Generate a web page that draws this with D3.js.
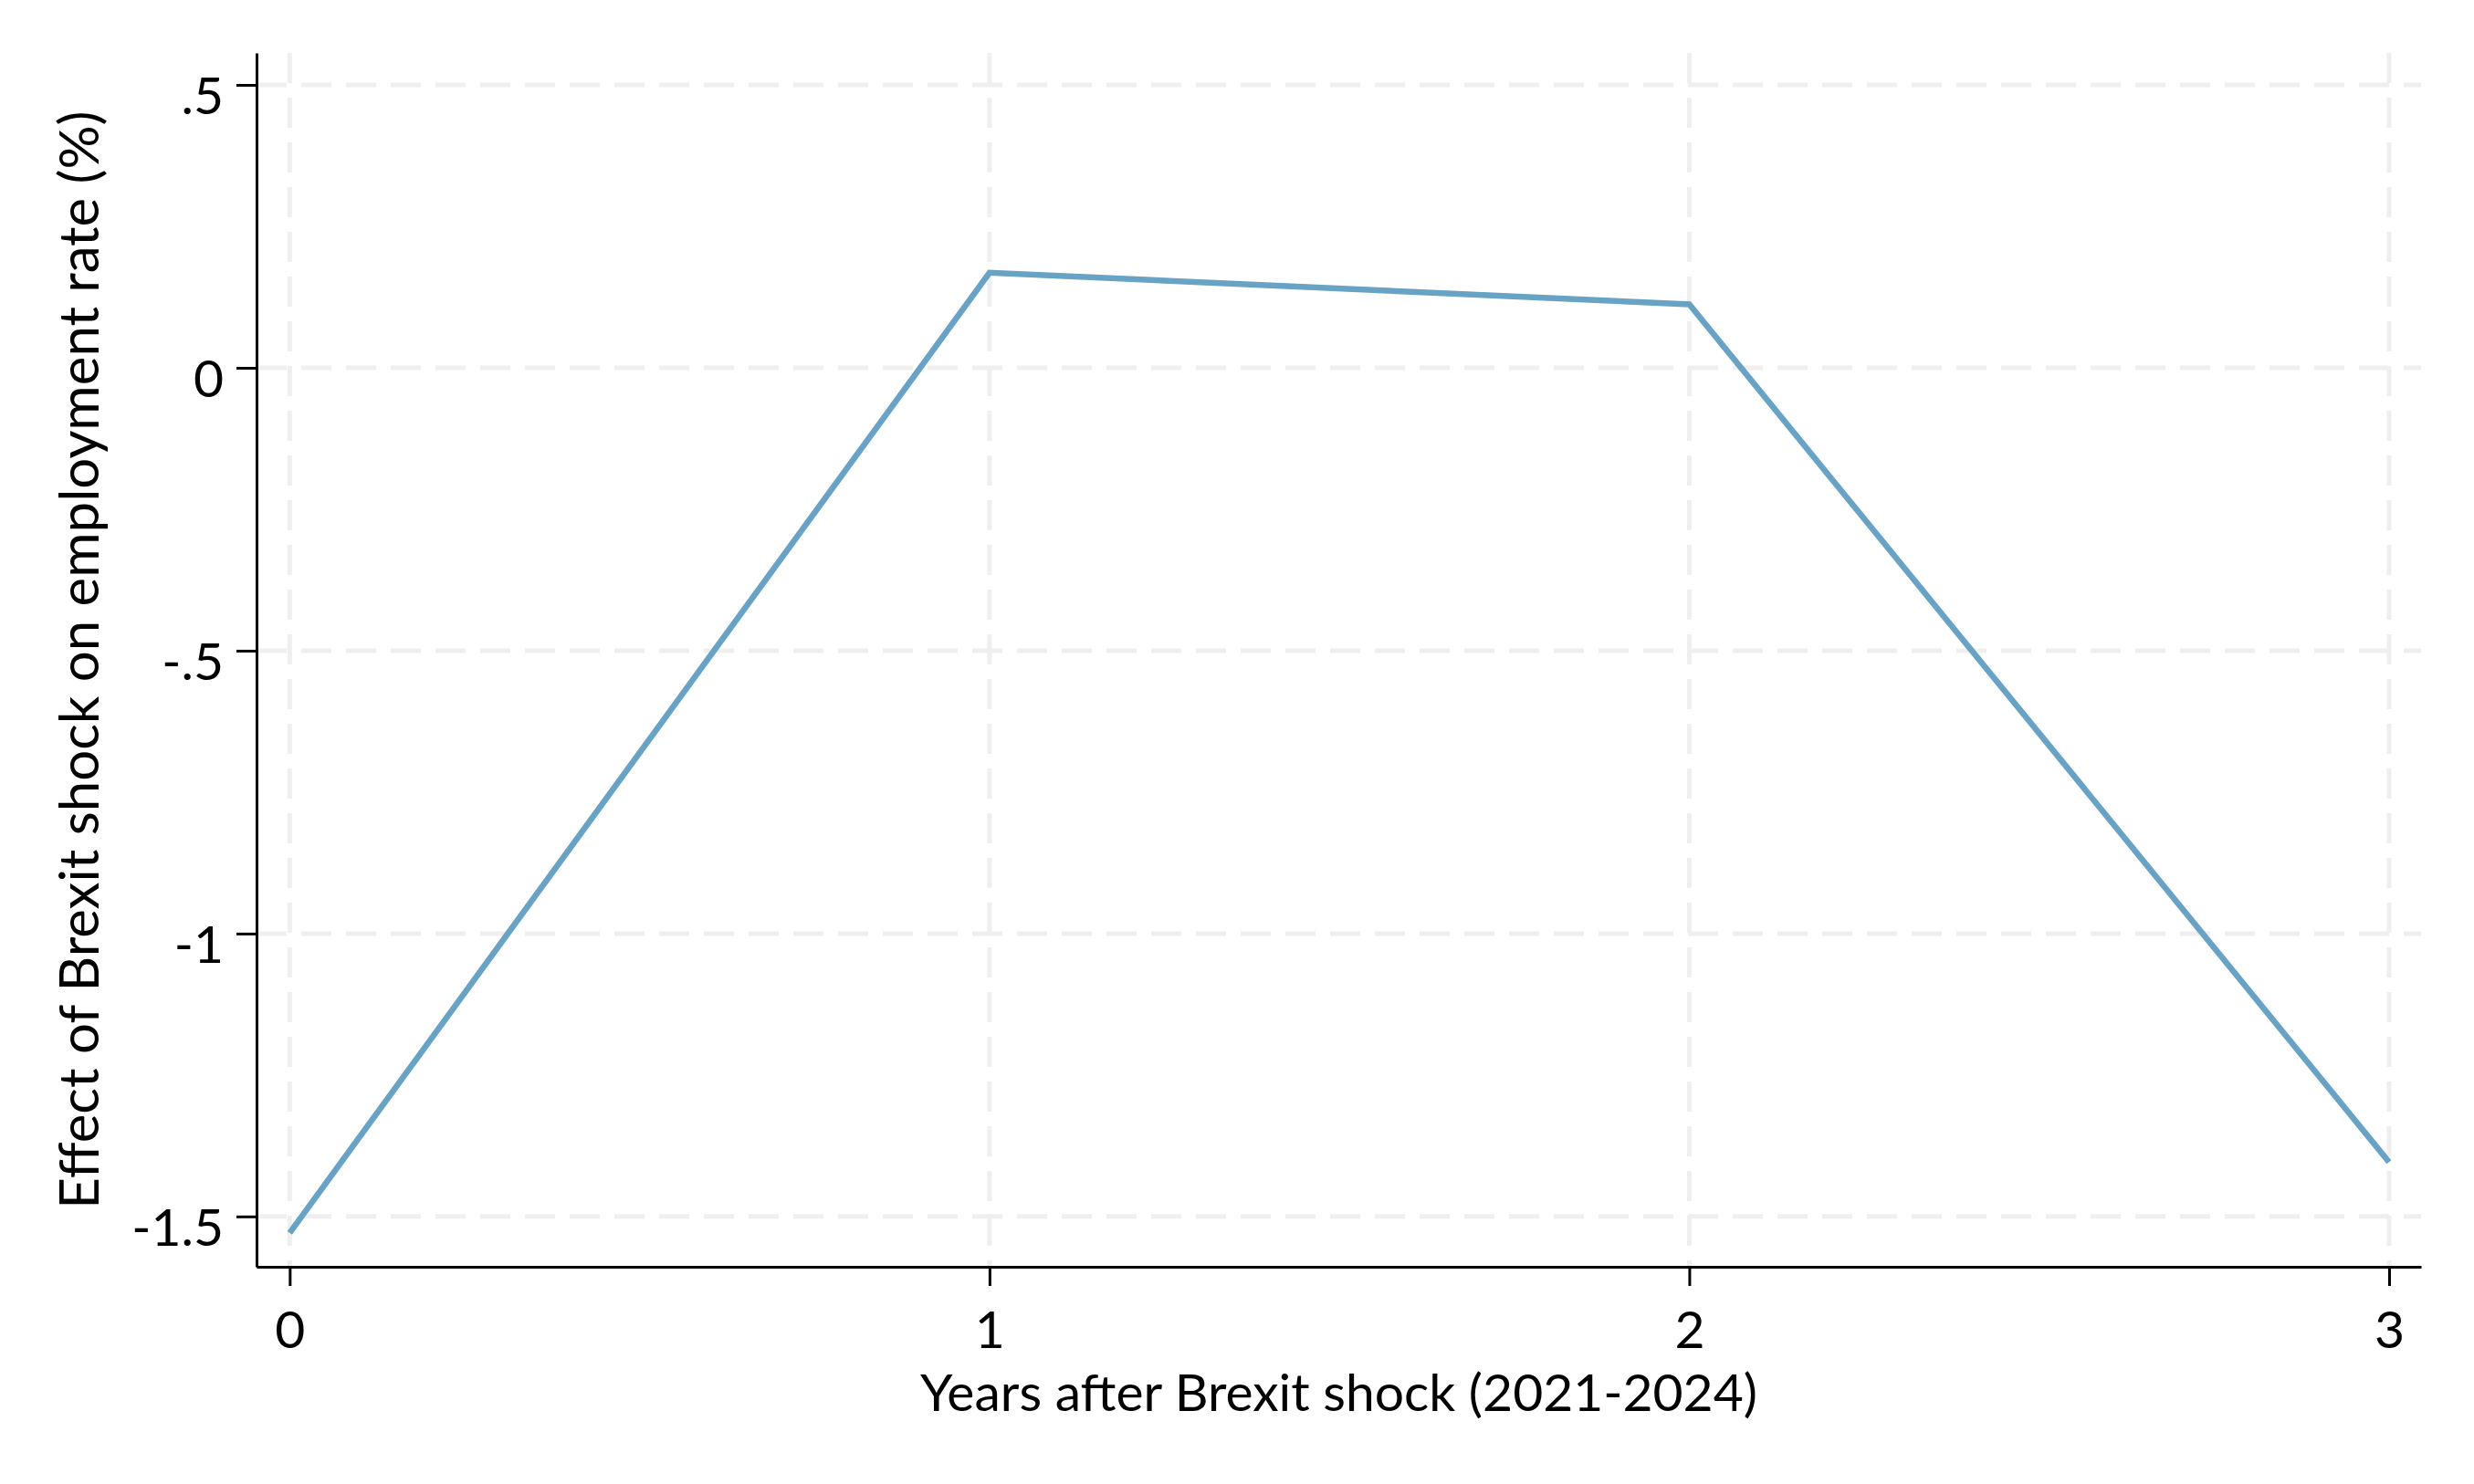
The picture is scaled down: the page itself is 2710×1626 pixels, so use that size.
<!DOCTYPE html>
<html>
<head>
<meta charset="utf-8">
<script src="https://cdn.jsdelivr.net/npm/d3@7"></script>
<style>
  body { margin: 0; background: #fff; }
  svg { display: block; }
  text { font-family: Lato, "Noto Sans", sans-serif; fill: #000; }
</style>
</head>
<body>
<svg width="2710" height="1626"></svg>
<script>
// data
let years = [0, 1, 2, 3],
    effects = [-1.529, 0.168, 0.112, -1.404],
    y_ticks = [0.5, 0, -0.5, -1, -1.5],
    y_tick_labels = [".5", "0", "-.5", "-1", "-1.5"],
    x_ticks = [0, 1, 2, 3],
    x_title = "Years after Brexit shock (2021-2024)",
    y_title = "Effect of Brexit shock on employment rate (%)";

let plot_left = 281, plot_right = 2652, plot_top = 58, plot_bottom = 1388;

let x = d3.scaleLinear().domain([-0.0474, 3.0457]).range([plot_left, plot_right]),
    y = d3.scaleLinear().domain([-1.589, 0.5565]).range([plot_bottom, plot_top]);

function draw() {
    let svg = d3.select("svg");

    // grid
    svg.append("g")
        .selectAll("line")
        .data(y_ticks)
        .join("line")
        .attr("x1", plot_left)
        .attr("x2", plot_right)
        .attr("y1", d => y(d))
        .attr("y2", d => y(d))
        .attr("stroke", "#efefef")
        .attr("stroke-width", 5)
        .attr("stroke-dasharray", "33,16");

    svg.append("g")
        .selectAll("line")
        .data(x_ticks)
        .join("line")
        .attr("x1", d => x(d))
        .attr("x2", d => x(d))
        .attr("y1", plot_top)
        .attr("y2", plot_bottom)
        .attr("stroke", "#efefef")
        .attr("stroke-width", 5)
        .attr("stroke-dasharray", "33,16");

    // axes
    let yAxis = svg.append("g")
        .attr("transform", `translate(${plot_left},0)`)
        .call(d3.axisLeft(y)
              .tickValues(y_ticks)
              .tickFormat((d, i) => y_tick_labels[i])
              .tickSize(22)
              .tickPadding(14)
              .tickSizeOuter(0));

    let xAxis = svg.append("g")
        .attr("transform", `translate(0,${plot_bottom})`)
        .call(d3.axisBottom(x)
              .tickValues(x_ticks)
              .tickFormat(d3.format("d"))
              .tickSize(21)
              .tickPadding(28)
              .tickSizeOuter(0));

    [xAxis, yAxis].forEach(a => {
        a.select(".domain").attr("stroke", "#000").attr("stroke-width", 3);
        a.selectAll(".tick line").attr("stroke", "#000").attr("stroke-width", 3);
        a.selectAll(".tick text")
            .attr("font-size", 57)
            .attr("font-family", "Lato, 'Noto Sans', sans-serif")
            .attr("fill", "#000");
    });
    yAxis.selectAll(".tick text").attr("dy", "0.55em");

    // line
    let line = d3.line()
        .x(d => x(d[0]))
        .y(d => y(d[1]));

    svg.append("path")
        .datum(years.map((d, i) => [d, effects[i]]))
        .attr("d", line)
        .attr("fill", "none")
        .attr("stroke", "#68a2c4")
        .attr("stroke-width", 6.5)
        .attr("stroke-linejoin", "miter");

    // titles
    svg.append("text")
        .attr("x", (plot_left + plot_right) / 2)
        .attr("y", 1546)
        .attr("text-anchor", "middle")
        .attr("font-size", 57)
        .text(x_title);

    svg.append("text")
        .attr("transform", `translate(108,${(plot_top + plot_bottom) / 2}) rotate(-90)`)
        .attr("text-anchor", "middle")
        .attr("font-size", 60)
        .text(y_title);
}

// wait for dom loading
document.addEventListener('DOMContentLoaded', function() {
    draw();
})
</script>
</body>
</html>
